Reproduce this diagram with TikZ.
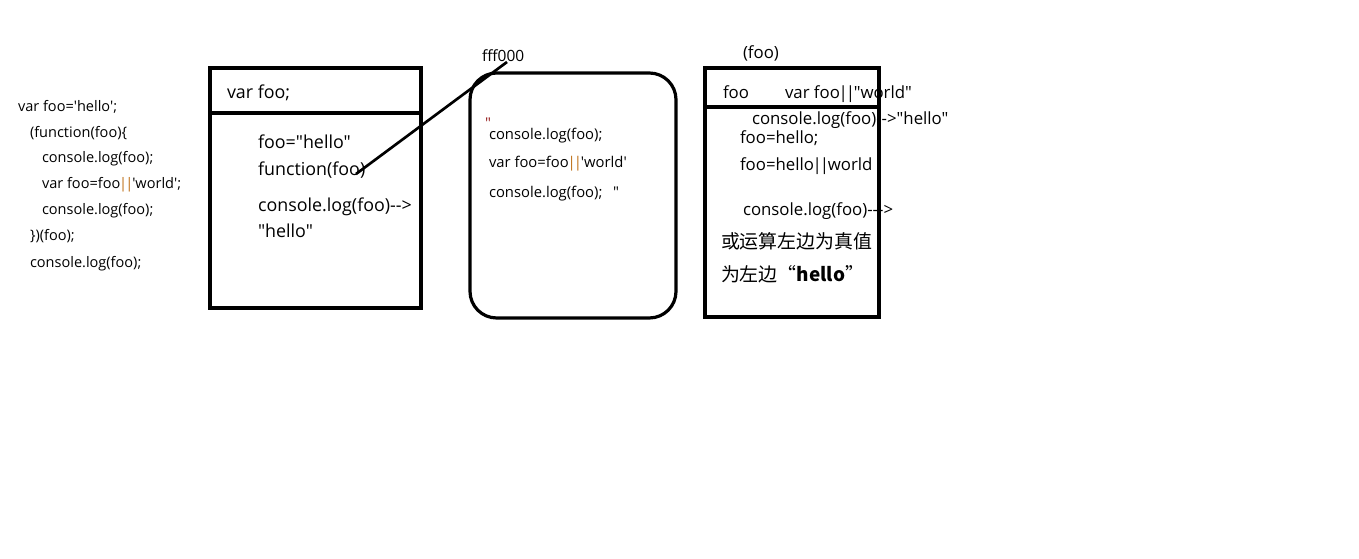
\documentclass[tikz,border=0pt]{standalone}
\usepackage{fontspec}
\setmainfont[Ligatures=TeXOff]{Open Sans}
\newfontfamily\cjk[Ligatures=TeXOff]{Noto Sans CJK SC}
\definecolor{orop}{RGB}{190,110,20}
\definecolor{redq}{RGB}{150,30,30}
\newcommand\dbar{\kern-0.08em|\kern-0.12em|\kern-0.08em}
\begin{document}
\begin{tikzpicture}[x=0.75pt,y=-0.75pt,
  txt/.style={anchor=base west,inner sep=0pt,outer sep=0pt,text=black},
  code/.style={txt,font=\fontsize{10.9pt}{12pt}\selectfont},
  boxt/.style={txt,font=\fontsize{13.4pt}{15pt}\selectfont},
  midt/.style={txt,font=\fontsize{11.1pt}{12pt}\selectfont},
  rt/.style={txt,font=\fontsize{12.6pt}{14pt}\selectfont},
  cn/.style={txt,font=\cjk\fontsize{14.2pt}{16pt}\selectfont},
  frame/.style={draw=black,line width=2.4pt},
  link/.style={draw=black,line width=2pt}]
\useasboundingbox[fill=white] (0,0) rectangle (1359,559);
% left code
\node[code] (c1) at (18,112) {var foo='hello';};
\node[code] (c2) at (30,138) {(function(foo)\{};
\node[code] (c3) at (42,163) {console.log(foo);};
\node[code] (c4) at (42,189) {var foo=foo\textcolor{orop}{\dbar}'world';};
\node[code] (c5) at (42,215) {console.log(foo);};
\node[code] (c6) at (30,241) {\})(foo);};
\node[code] (c7) at (30,268) {console.log(foo);};
% box 1
\node[boxt] (b1a) at (227,99) {var foo;};
\node[boxt] (b1b) at (258,149) {foo="hello"};
\node[boxt] (b1c) at (258,176) {function(foo)};
\node[boxt] (b1d) at (258,212) {console.log(foo)-->};
\node[boxt] (b1e) at (258,238) {"hello"};
\draw[frame] (210,68) rectangle (421,308);
\draw[frame] (210,113) -- (421,113);
% middle
\node[midt,font=\fontsize{11.6pt}{12pt}\selectfont] (fff) at (482,62) {fff000};
\node[midt,text=redq] (q1) at (485,129) {"};
\node[midt] (m1) at (489,140) {console.log(foo);};
\node[midt] (m2) at (489,168) {var foo=foo\textcolor{orop}{\dbar}'world'};
\node[midt] (m3) at (489,198) {console.log(foo);};
\node[midt] (q2) at (613,198) {"};
\draw[frame,rounded corners=20] (470,73) rectangle (676,318);
\coordinate (l1) at (356,174);
\coordinate (l2) at (507,62);
\draw[link] (l1) -- (l2);
% box 3
\node[rt] (r0) at (743,59) {(foo)};
\node[rt] (r1) at (723,99) {foo};
\node[rt] (r2) at (785,99) {var foo\dbar"world"};
\node[rt] (r3) at (752,125) {console.log(foo)-->"hello"};
\node[rt] (r4) at (740,144) {foo=hello;};
\node[rt] (r5) at (740,171) {foo=hello\dbar world};
\node[rt] (r6) at (743,216) {console.log(foo)--->};
\node[cn] (r7) at (721,249) {或运算左边为真值};
\node[cn] (r8) at (721,282) {为左边“\textbf{hello}”};
\draw[frame] (705,68) rectangle (879,317);
\draw[frame] (705,107) -- (879,107);
\end{tikzpicture}
\end{document}
